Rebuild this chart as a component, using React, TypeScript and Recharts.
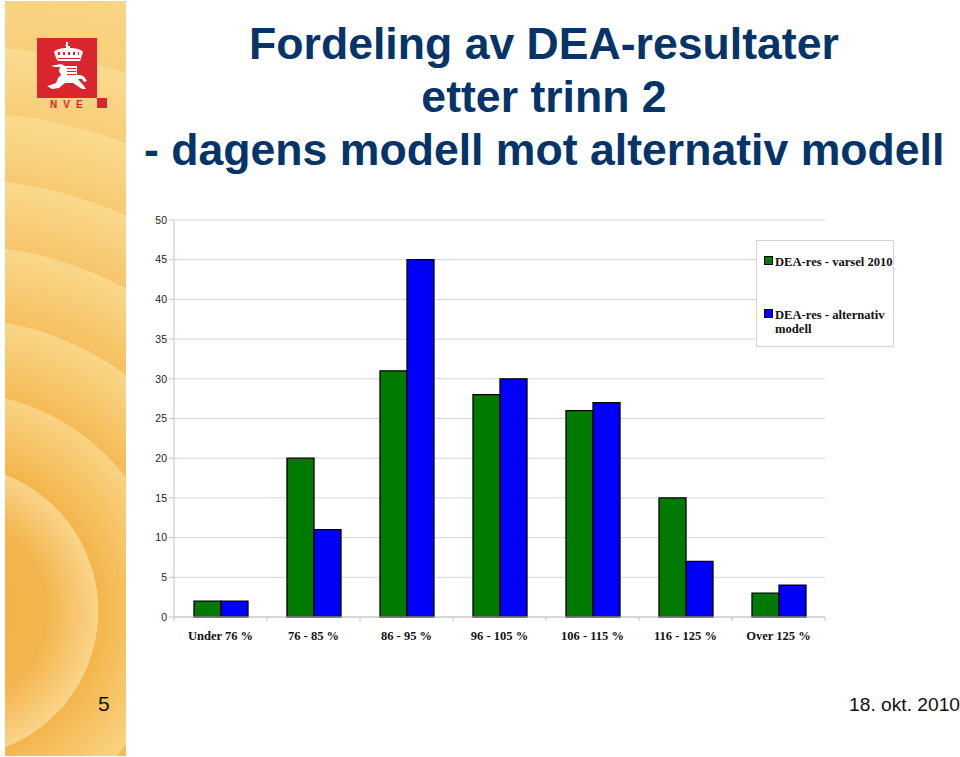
import { BarChart, Bar, XAxis, YAxis, CartesianGrid, Legend } from 'recharts';

const categories = ['Under 76 %', '76 - 85 %', '86 - 95 %', '96 - 105 %', '106 - 115 %', '116 - 125 %', 'Over 125 %'];
const varsel = [2, 20, 31, 28, 26, 15, 3];
const alternativ = [2, 11, 45, 30, 27, 7, 4];
const yTicks = [0, 5, 10, 15, 20, 25, 30, 35, 40, 45, 50];
const seriesNames = ['DEA-res - varsel 2010', 'DEA-res - alternativ modell'];
const titleLines = ['Fordeling av DEA-resultater', 'etter trinn 2', '- dagens modell mot alternativ modell'];

const data = categories.map((name, i) => ({ name, varsel: varsel[i], alternativ: alternativ[i] }));

const sans = '"Liberation Sans", Arial, sans-serif';
const serif = '"Liberation Serif", "Times New Roman", serif';
const catWidth = 93;

// slide background: concentric rings, each going dark to light outwards
const ringBackground = `radial-gradient(circle at -53px 610px,
  #f2b044 0px, #f4b54e 95px, #f9d48a 146px,
  #f4b54c 146.5px, #f9d382 219px,
  #f5bb56 219.5px, #f9d687 293px,
  #f6c060 293.5px, #f9d88a 366px,
  #f7c56a 366.5px, #fad98c 432px,
  #f7ca72 432.5px, #fadb8e 499px,
  #f8cd78 499.5px, #fadb90 565px,
  #f8cf7c 565.5px, #fadb8e 700px)`;

function Logo() {
  return (
    <svg width={120} height={120} style={{ position: 'absolute', left: 0, top: 0 }}>
      <rect x={37} y={38} width={60} height={60} fill="#d9262e" />
      <rect x={97} y={98} width={10} height={10} fill="#d9262e" />
      {/* crown */}
      <path
        d="M66 42h2v4h2v2c5 0 11 1 13 4l-2 6-1 3H58l-2-3-2-6c2-3 8-4 12-4v-2h-1v-1h1z"
        fill="#fff"
      />
      <path d="M58 52h2v3h-2zM63 52h2v3h-2zM68 52h2v3h-2zM73 52h2v3h-2zM78 52h1v3h-1z" fill="#d9262e" />
      <path d="M58 58h22v1H58z" fill="#d9262e" />
      {/* lion */}
      <path
        d="M51 66l10-2 4 2h12v9c3 0 6 0 8 3l2 3-3 1-2-3-4 0 6 7 2 3-4 0-9-6-8 0-6 5-7 1-5-3 4-1 5-2 2-5 3-3-2-4 1-4-5 0z"
        fill="#fff"
      />
      <path d="M67 68h9v1h-9zM67 71h9v1h-9zM67 74h9v1h-9z" fill="#d9262e" />
      <text x={50} y={108} fontFamily={sans} fontWeight="bold" fontSize={10} letterSpacing={6} fill="#d9262e">
        NVE
      </text>
    </svg>
  );
}

function CategoryTick({ x, y, payload, index }: any) {
  return (
    <g>
      <line x1={x - catWidth / 2} x2={x - catWidth / 2} y1={y - 8} y2={y - 4} stroke="#c4c4c4" />
      {index === categories.length - 1 && (
        <line x1={x + catWidth / 2} x2={x + catWidth / 2} y1={y - 8} y2={y - 4} stroke="#c4c4c4" />
      )}
      <text x={x} y={y + 15} textAnchor="middle" fontFamily={serif} fontWeight="bold" fontSize={12.5} fill="#111">
        {payload.value}
      </text>
    </g>
  );
}

function LegendBox({ payload }: any) {
  return (
    <div
      style={{
        width: 138,
        height: 107,
        boxSizing: 'border-box',
        background: '#fff',
        border: '1px solid #d4d4d4',
        position: 'absolute',
        left: 0,
        top: 0,
        fontFamily: serif,
        fontWeight: 'bold',
        fontSize: 12.6,
        lineHeight: '14px',
        color: '#111',
      }}
    >
      {(payload || []).map((item: any, i: number) => (
        <div key={item.value} style={{ position: 'absolute', left: 7, top: i === 0 ? 15 : 68, width: 132 }}>
          <span
            style={{
              position: 'absolute',
              left: 0,
              top: 0,
              width: 9,
              height: 9,
              boxSizing: 'border-box',
              background: item.color,
              border: '1px solid #000',
            }}
          />
          <div style={{ marginLeft: 11, marginTop: -1 }}>{item.value}</div>
        </div>
      ))}
    </div>
  );
}

export default function App() {
  return (
    <div style={{ position: 'absolute', left: 0, top: 0, width: 960, height: 757, overflow: 'hidden', background: '#fff' }}>
      <div style={{ position: 'absolute', left: 5, top: 1, width: 121, height: 755, backgroundImage: ringBackground }} />
      <Logo />
      {titleLines.map((line, i) => (
        <div
          key={line}
          style={{
            position: 'absolute',
            left: 144,
            width: 800,
            top: 18 + i * 53,
            textAlign: 'center',
            fontFamily: sans,
            fontWeight: 'bold',
            fontSize: 44.6,
            lineHeight: '52px',
            color: '#053468',
            whiteSpace: 'nowrap',
          }}
        >
          {line}
        </div>
      ))}
      <div style={{ position: 'absolute', left: 0, top: 0 }}>
        <BarChart
          width={960}
          height={757}
          data={data}
          margin={{ top: 220, right: 135, bottom: 100, left: 134 }}
          barGap={0}
          barSize={27}
        >
          <CartesianGrid horizontal vertical={false} stroke="#d6d6d6" />
          <XAxis
            dataKey="name"
            axisLine={{ stroke: '#c4c4c4' }}
            tickLine={false}
            interval={0}
            height={40}
            tick={<CategoryTick />}
          />
          <YAxis
            domain={[0, 50]}
            ticks={yTicks}
            width={40}
            interval={0}
            axisLine={{ stroke: '#c4c4c4' }}
            tickLine={{ stroke: '#c4c4c4' }}
            tickSize={5}
            tick={{ fontFamily: sans, fontSize: 10.5, fill: '#222' }}
          />
          <Legend
            content={<LegendBox />}
            itemSorter={(item: any) => seriesNames.indexOf(item.value)}
            wrapperStyle={{ left: 756, top: 240, width: 0, height: 0 }}
          />
          <Bar dataKey="varsel" name={seriesNames[0]} fill="#007a00" stroke="#000" strokeWidth={1.3} isAnimationActive={false} />
          <Bar dataKey="alternativ" name={seriesNames[1]} fill="#0000fa" stroke="#000" strokeWidth={1.3} isAnimationActive={false} />
        </BarChart>
      </div>
      <div style={{ position: 'absolute', left: 98, top: 692, fontFamily: sans, fontSize: 21, color: '#111' }}>5</div>
      <div style={{ position: 'absolute', right: 0, top: 694, fontFamily: sans, fontSize: 19.2, color: '#111', whiteSpace: 'nowrap' }}>
        18. okt. 2010
      </div>
    </div>
  );
}
